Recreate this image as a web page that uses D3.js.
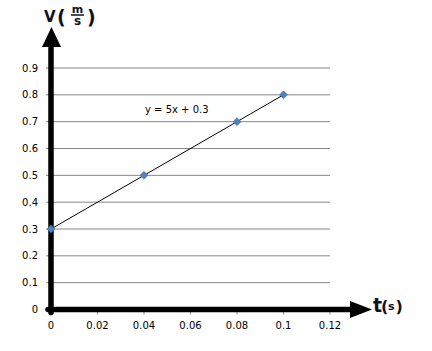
<!DOCTYPE html>
<html lang="en"><head>
<meta charset="utf-8">
<title>V vs t</title>
<script src="https://cdn.jsdelivr.net/npm/d3@7"></script>
<style>
  body { margin: 0; background: #fff; }
  text { font-family: Verdana, "DejaVu Sans", sans-serif; }
</style>
</head>
<body>
<script>
// data
var tValues = [0, 0.04, 0.08, 0.1];
var vValues = [0.3, 0.5, 0.7, 0.8];
var xTicks = [0, 0.02, 0.04, 0.06, 0.08, 0.1, 0.12];
var yTicks = [0, 0.1, 0.2, 0.3, 0.4, 0.5, 0.6, 0.7, 0.8, 0.9];
var slope = 5, intercept = 0.3;

var w = 432, h = 351;
var svg = d3.select("body").append("svg").attr("width", w).attr("height", h);

var x = d3.scaleLinear().domain([0, 0.12]).range([51, 330]);
var y = d3.scaleLinear().domain([0, 0.9]).range([309.5, 68]);

// gridlines
svg.selectAll("line.grid").data(yTicks.slice(1)).enter().append("line")
  .attr("x1", x(0)).attr("x2", x(0.12))
  .attr("y1", function(d) { return y(d); }).attr("y2", function(d) { return y(d); })
  .attr("stroke", "#868686").attr("stroke-width", 1);

// y ticks + labels
svg.selectAll("line.yt").data(yTicks).enter().append("line")
  .attr("x1", x(0) - 5).attr("x2", x(0))
  .attr("y1", function(d) { return y(d); }).attr("y2", function(d) { return y(d); })
  .attr("stroke", "#868686");
svg.selectAll("text.yl").data(yTicks).enter().append("text")
  .attr("x", 38).attr("y", function(d) { return y(d) + 3.5; })
  .attr("text-anchor", "end").attr("font-size", "10px").attr("fill", "#000")
  .text(function(d) { return d; });

// x ticks + labels
svg.selectAll("line.xt").data(xTicks).enter().append("line")
  .attr("x1", function(d) { return x(d); }).attr("x2", function(d) { return x(d); })
  .attr("y1", y(0)).attr("y2", y(0) + 5)
  .attr("stroke", "#868686");
svg.selectAll("text.xl").data(xTicks).enter().append("text")
  .attr("x", function(d) { return x(d); }).attr("y", 329)
  .attr("text-anchor", "middle").attr("font-size", "10px").attr("fill", "#000")
  .text(function(d) { return d; });

// trend line
svg.append("line")
  .attr("x1", x(0)).attr("y1", y(intercept))
  .attr("x2", x(0.1)).attr("y2", y(slope * 0.1 + intercept))
  .attr("stroke", "#000").attr("stroke-width", 1);

// axes (thick arrows)
svg.append("line").attr("x1", x(0)).attr("y1", y(0) + 3).attr("x2", x(0)).attr("y2", 46)
  .attr("stroke", "#000").attr("stroke-width", 5.5).attr("stroke-linecap", "round");
svg.append("path").attr("d", "M42,47 L61,47 L51.5,27 Z").attr("fill", "#000");
svg.append("line").attr("x1", x(0) - 3).attr("y1", y(0)).attr("x2", 352).attr("y2", y(0))
  .attr("stroke", "#000").attr("stroke-width", 5.5).attr("stroke-linecap", "round");
svg.append("path").attr("d", "M350,301 L350,318 L372,309.5 Z").attr("fill", "#000");

// markers (rotated squares)
svg.selectAll("path.pt").data(tValues).enter().append("path")
  .attr("d", d3.symbol().type(d3.symbolSquare).size(32))
  .attr("transform", function(d, i) { return "translate(" + x(d) + "," + y(vValues[i]) + ") rotate(45)"; })
  .attr("fill", "#4F81BD").attr("stroke", "#3a6aa5").attr("stroke-width", 0.5);

// equation
svg.append("text").attr("x", 145).attr("y", 113).attr("font-size", "10px").attr("fill", "#000")
  .text("y = 5x + 0.3");

// axis titles
var vt = svg.append("g").attr("fill", "#111122").attr("font-weight", "bold")
  .style("font-family", "Arial, 'Liberation Sans', sans-serif");
vt.append("text").attr("x", 44).attr("y", 22).attr("font-size", "15px").text("V");
vt.append("text").attr("x", 57).attr("y", 24).attr("font-size", "19px").text("(");
vt.append("text").attr("x", 77.5).attr("y", 12.5).attr("text-anchor", "middle").attr("font-size", "11px").text("m");
vt.append("line").attr("x1", 71).attr("x2", 84).attr("y1", 15).attr("y2", 15).attr("stroke", "#111122").attr("stroke-width", 1.5);
vt.append("text").attr("x", 77.5).attr("y", 25).attr("text-anchor", "middle").attr("font-size", "12px").text("s");
vt.append("text").attr("x", 87).attr("y", 24).attr("font-size", "19px").text(")");

var tt = svg.append("g").attr("fill", "#111122").attr("font-weight", "bold")
  .style("font-family", "Arial, 'Liberation Sans', sans-serif");
tt.append("text").attr("x", 373).attr("y", 312).attr("font-size", "19px").text("t");
tt.append("text").attr("x", 381).attr("y", 312).attr("font-size", "16px").text("(");
tt.append("text").attr("x", 388).attr("y", 310).attr("font-size", "11px").text("s");
tt.append("text").attr("x", 395.5).attr("y", 312).attr("font-size", "16px").text(")");
</script>
</body></html>
